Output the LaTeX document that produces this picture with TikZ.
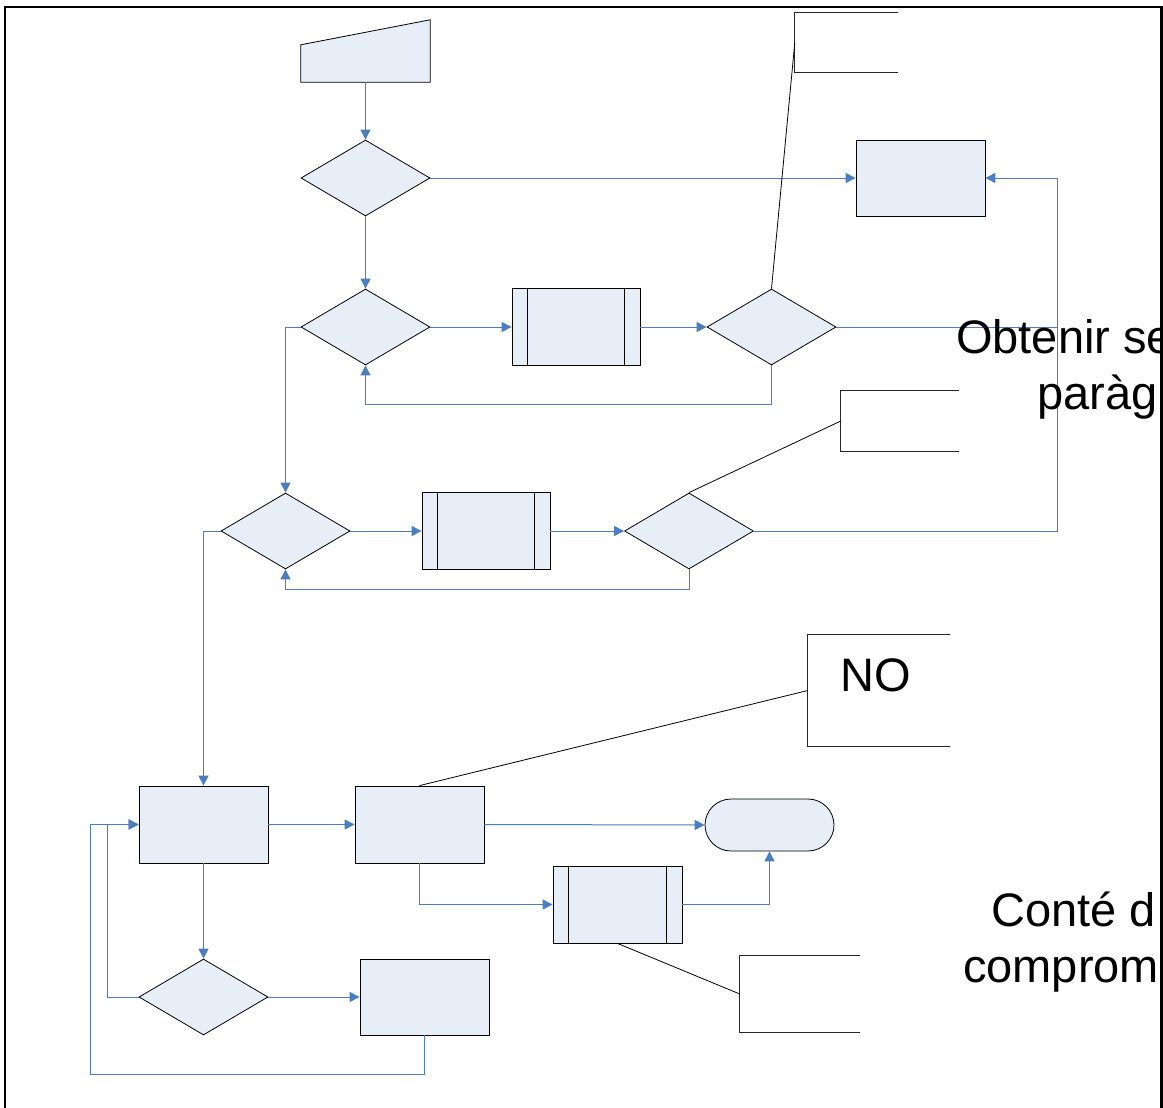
\documentclass[tikz,border=0pt]{standalone}
\usepackage{fontspec}
\setmainfont{Liberation Sans}
\usetikzlibrary{arrows.meta,shapes.geometric,calc}
\definecolor{boxfill}{RGB}{231,238,247}
\definecolor{conncol}{RGB}{74,126,193}
\begin{document}
\begin{tikzpicture}[x=1pt,y=-1pt,
  shp/.style={draw=black, line width=0.8pt, fill=boxfill, inner sep=0pt},
  procbox/.style={shp, rectangle, minimum width=129pt, minimum height=77pt},
  predbox/.style={shp, rectangle, minimum width=128pt, minimum height=77pt},
  decbox/.style={shp, diamond, minimum width=129pt, minimum height=76pt},
  termbox/.style={shp, rectangle, rounded corners=26pt, minimum width=129pt, minimum height=52pt},
  ghost/.style={rectangle, inner sep=0pt, draw=none},
  conn/.style={draw=conncol, line width=1pt, -{Triangle[length=10pt,width=10pt]}},
  connline/.style={draw=conncol, line width=1pt},
  notebr/.style={draw=black!85, line width=0.8pt},
  noteln/.style={draw=black, line width=0.8pt},
  bigtxt/.style={inner sep=0pt, font=\fontsize{47}{54}\selectfont},
  frameln/.style={draw=black, line width=2.5pt}
]
\useasboundingbox (0,0) rectangle (1163,1108);

% frame
\draw[frameln] (5,1108) -- (5,7) -- (1161.5,7) -- (1161.5,1108);

% manual input
\node[ghost, minimum width=129pt, minimum height=62pt] (inp) at (365.5,51) {};
\draw[shp] (inp.south west) -- (inp.south east) -- (inp.north east) -- ($(inp.north west)+(0,25)$) -- cycle;

% main nodes
\node[decbox] (d1) at (365.5,178) {};
\node[procbox, minimum height=76pt] (b1) at (920.5,178) {};
\node[decbox] (d2) at (365.5,327) {};
\node[predbox] (p1) at (576,327) {};
\node[decbox] (d3) at (771.5,327) {};
\node[decbox] (d4) at (285.5,531) {};
\node[predbox] (p2) at (486,531) {};
\node[decbox] (d5) at (689,531) {};
\node[procbox] (b2) at (203.5,824.5) {};
\node[procbox] (b3) at (419.5,824.5) {};
\node[termbox] (term) at (769.5,825) {};
\node[procbox] (p3) at (617.5,904.5) {};
\node[decbox] (d6) at (203.5,997) {};
\node[procbox, minimum height=76pt] (b4) at (424.5,997) {};

% predefined process inner bars
\foreach \p in {p1,p2,p3}{
  \draw[line width=0.8pt] ($(\p.north west)+(16,0)$) -- ($(\p.south west)+(16,0)$);
  \draw[line width=0.8pt] ($(\p.north east)+(-16,0)$) -- ($(\p.south east)+(-16,0)$);
}

\coordinate (rail) at (1057,0);
\coordinate (lp) at (90,1074);

% connectors
\draw[conn] (inp.south) -- (d1.north);
\draw[conn] (d1.east) -- (b1.west);
\draw[conn] (d1.south) -- (d2.north);
\draw[conn] (d2.east) -- (p1.west);
\draw[conn] (p1.east) -- (d3.west);
\draw[conn] (d3.east) -- (d3.east -| rail) |- (b1.east);
\draw[connline] (d5.east) -- (d5.east -| rail) -- (rail |- d3.east);
\draw[conn] (d3.south) -- ++(0,39) -| (d2.south);
\draw[conn] (d2.west) -| (d4.north);
\draw[conn] (d4.east) -- (p2.west);
\draw[conn] (p2.east) -- (d5.west);
\draw[conn] (d5.south) -- ++(0,20) -| (d4.south);
\draw[conn] (d4.west) -| (b2.north);
\draw[conn] (b2.east) -- (b3.west);
\draw[conn] (b3.east) -- (term.west);
\draw[conn] (b3.south) |- (p3.west);
\draw[conn] (p3.east) -| (term.south);
\draw[conn] (b2.south) -- (d6.north);
\draw[conn] (d6.east) -- (b4.west);
\draw[conn] (d6.west) -- ++(-31,0) |- (b2.west);
\draw[conn] (b4.south) |- (lp) |- (b2.west);

% annotations
\node[ghost, minimum width=103pt, minimum height=59pt] (a1) at (846.5,42.5) {};
\node[ghost, minimum width=118pt, minimum height=60pt] (a2) at (900,421) {};
\node[ghost, minimum width=142pt, minimum height=111pt] (a3) at (879,690.5) {};
\node[ghost, minimum width=120pt, minimum height=76pt] (a4) at (800,994) {};
\foreach \a in {a1,a2,a3,a4}{
  \draw[notebr] (\a.north east) -- (\a.north west) -- (\a.south west) -- (\a.south east);
}
\draw[noteln] (d3.north) -- (a1.west);
\draw[noteln] (d5.north) -- (a2.west);
\draw[noteln] (b3.north) -- (a3.west);
\draw[noteln] (p3.south) -- (a4.west);

% texts
\node[bigtxt, anchor=base west] (no) at (840,691) {NO};
\node[bigtxt, anchor=base west] (t1) at (956,353) {Obtenir se};
\node[bigtxt, anchor=base west] (t2) at (1037,409) {paràg};
\node[bigtxt, anchor=base west] (t3) at (991,926) {Conté d};
\node[bigtxt, anchor=base west] (t4) at (963,982) {comprom};
\end{tikzpicture}
\end{document}
